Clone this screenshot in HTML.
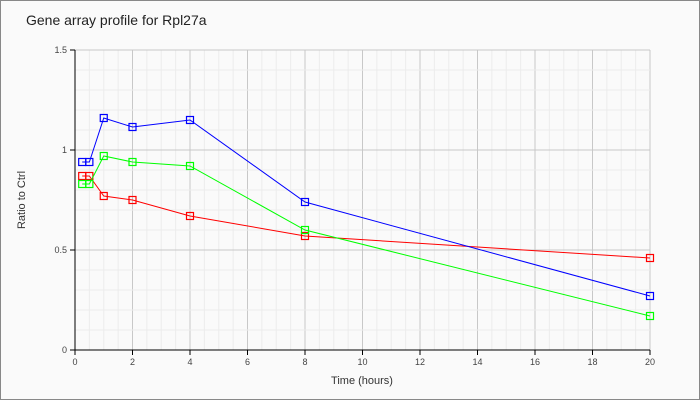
<!DOCTYPE html>
<html><head><meta charset="utf-8"><style>
body{margin:0;background:#fff}
svg{display:block;font-family:"Liberation Sans",sans-serif}
</style></head><body>
<svg id="s" width="700" height="400" xmlns="http://www.w3.org/2000/svg">
<rect x="0.5" y="0.5" width="699" height="399" fill="#fafafa" stroke="#888"/>
<rect x="75" y="50" width="575" height="300" fill="#fafafa"/>
<g id="g"></g>
<text x="26" y="25" font-size="14" fill="#222">Gene array profile for Rpl27a</text>
<text x="362" y="384" font-size="11" text-anchor="middle" fill="#333">Time (hours)</text>
<text transform="translate(25,200) rotate(-90)" font-size="11" text-anchor="middle" fill="#333">Ratio to Ctrl</text>
</svg>
<script>
var g=document.getElementById('g'),h='';
function X(t){return 75+t*28.75}function Y(v){return 350-v*200}
for(var t=0.5;t<=20.01;t+=0.5){var x=X(t);var maj=Math.abs(t/2-Math.round(t/2))<1e-6;
h+='<line x1="'+x+'" y1="50" x2="'+x+'" y2="350" stroke="'+(maj?'#c8c8c8':'#ececec')+'"/>';}
for(var i=1;i<=15;i++){var y=Y(i/10);var maj=i%5==0;
h+='<line x1="75" y1="'+y+'" x2="650" y2="'+y+'" stroke="'+(maj?'#c8c8c8':'#ececec')+'"/>';}
h+='<line x1="75" y1="50" x2="75" y2="350" stroke="#000"/><line x1="75" y1="350" x2="650" y2="350" stroke="#000"/>';
for(var t=0;t<=20;t+=2){var x=X(t);h+='<line x1="'+x+'" y1="350" x2="'+x+'" y2="355" stroke="#000"/><text x="'+x+'" y="365" font-size="9" text-anchor="middle" fill="#444">'+t+'</text>';}
[[0,'0'],[0.5,'0.5'],[1,'1'],[1.5,'1.5']].forEach(function(a){var y=Y(a[0]);h+='<line x1="70" y1="'+y+'" x2="75" y2="'+y+'" stroke="#000"/><text x="67" y="'+(y+3)+'" font-size="9" text-anchor="end" fill="#444">'+a[1]+'</text>';});
var T=[0.25,0.5,1,2,4,8,20];
var S=[['#f00',[0.87,0.87,0.77,0.75,0.67,0.57,0.46]],['#0f0',[0.83,0.83,0.97,0.94,0.92,0.6,0.17]],['#00f',[0.94,0.94,1.16,1.115,1.15,0.74,0.27]]];
S.forEach(function(s){var p=T.map(function(t,i){return X(t)+','+Y(s[1][i])}).join(' ');
h+='<polyline points="'+p+'" fill="none" stroke="'+s[0]+'"/>';
T.forEach(function(t,i){h+='<rect x="'+(X(t)-3.5)+'" y="'+(Y(s[1][i])-3.5)+'" width="7" height="7" fill="none" stroke="'+s[0]+'" stroke-width="1.2"/>';});});
g.innerHTML=h;
</script>
</body></html>
